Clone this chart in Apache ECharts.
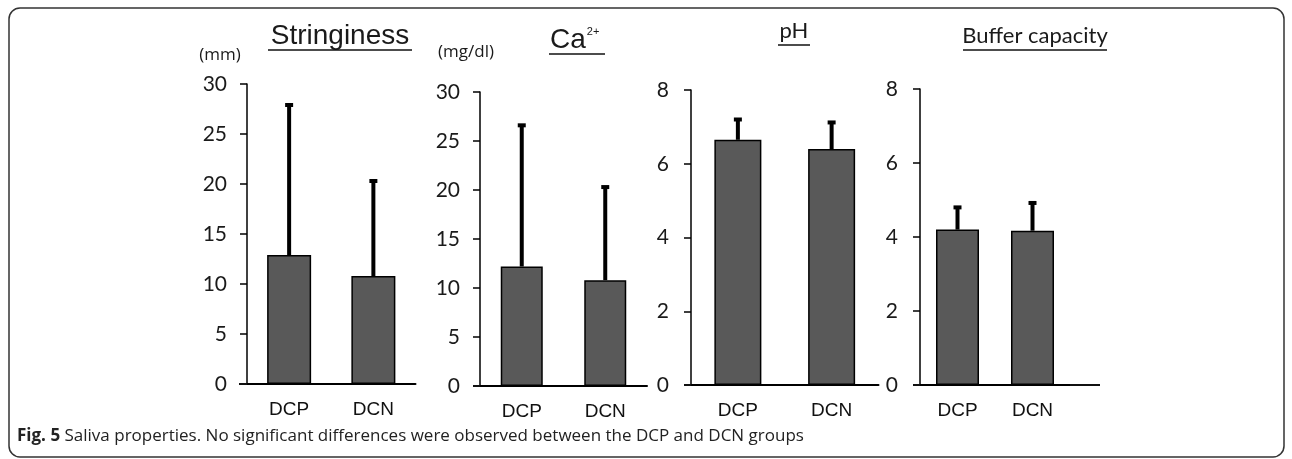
<!DOCTYPE html>
<html>
<head>
<meta charset="utf-8">
<script src="https://cdn.jsdelivr.net/npm/echarts@6/dist/echarts.min.js"></script>
<style>
html,body{margin:0;padding:0;background:#fff;}
#main{width:1292px;height:459px;}
</style>
</head>
<body>
<div id="main"></div>
<script>
// groups on each x axis
var groups = ['DCP', 'DCN'];
// means and SD
var stringMean = [12.9, 10.8];
var stringSd = [15.0, 9.5];
var caMean = [12.2, 10.8];
var caSd = [14.4, 9.5];
var phMean = [6.65, 6.4];
var phSd = [0.55, 0.72];
var bufMean = [4.2, 4.17];
var bufSd = [0.6, 0.75];
// y axis ranges
var yMax = [30, 30, 8, 8];
var yStep = [5, 5, 2, 2];

// left, right, top(max), bottom(0), bar width, label margin
var boxes = [
    [247, 415.5, 84, 384, 44, 20],
    [480, 647, 92, 386, 42, 20],
    [691, 878.5, 90, 385, 47, 22],
    [920, 1070, 89, 385, 43, 22]
];
var means = [stringMean, caMean, phMean, bufMean];
var sds = [stringSd, caSd, phSd, bufSd];

var tickFont = 'Lato';
var catFont = '"Liberation Sans"';

function errRender(params, api) {
    var x = api.value(0), m = api.value(1), s = api.value(2);
    var p0 = api.coord([x, m]);
    var p1 = api.coord([x, m + s]);
    return {
        type: 'group',
        children: [
            {type: 'line', shape: {x1: p0[0], y1: p0[1], x2: p1[0], y2: p1[1]}, style: {stroke: '#000', lineWidth: 4}},
            {type: 'rect', shape: {x: p1[0] - 4, y: p1[1] - 2, width: 8, height: 4}, style: {fill: '#000'}}
        ]
    };
}

var grids = [], xAxes = [], yAxes = [], series = [];
boxes.forEach(function (b, i) {
    grids.push({left: b[0], width: b[1] - b[0], top: b[2], height: b[3] - b[2]});
    xAxes.push({
        type: 'category', gridIndex: i, data: groups,
        axisLine: {lineStyle: {color: '#000', width: 2}},
        axisTick: {show: false},
        axisLabel: {color: '#111', fontFamily: catFont, fontSize: 19, margin: 16}
    });
    yAxes.push({
        type: 'value', gridIndex: i, min: 0, max: yMax[i], interval: yStep[i],
        axisLine: {show: true, lineStyle: {color: '#000', width: 1.5}},
        axisTick: {show: true, length: 7, lineStyle: {color: '#000', width: 1.5}},
        splitLine: {show: false},
        axisLabel: {color: '#1a1a1a', fontFamily: tickFont, fontSize: 21, margin: b[5]}
    });
    series.push({
        type: 'bar', xAxisIndex: i, yAxisIndex: i, barWidth: b[4],
        data: means[i],
        itemStyle: {color: '#595959', borderColor: '#000', borderWidth: 1.5},
        animation: false
    });
    series.push({
        type: 'custom', xAxisIndex: i, yAxisIndex: i,
        renderItem: errRender,
        encode: {x: 0, y: 1},
        data: means[i].map(function (m, j) { return [j, m, sds[i][j]]; }),
        z: 1,
        animation: false
    });
});

function uline(x1, x2, y, w) {
    return {type: 'line', z: 10, shape: {x1: x1, y1: y, x2: x2, y2: y}, style: {stroke: '#111', lineWidth: w || 1.5}};
}
function label(txt, x, y, font, align) {
    return {type: 'text', x: x, y: y, style: {text: txt, font: font, fill: '#1a1a1a', textAlign: align || 'center', textVerticalAlign: 'middle'}};
}

var graphics = [
    {type: 'rect', shape: {x: 9, y: 8, width: 1275, height: 449, r: 11}, style: {fill: 'none', stroke: '#333', lineWidth: 1.5}},
    label('Stringiness', 340, 36, '28px "Liberation Sans"'),
    uline(268, 412, 50),
    {type: 'text', x: 550, y: 40, style: {
        text: '{a|Ca}{b|2+}', fill: '#1a1a1a', textAlign: 'left', textVerticalAlign: 'middle',
        rich: {a: {font: '28px "Liberation Sans"', fill: '#1a1a1a'}, b: {font: '11px "Liberation Sans"', fill: '#1a1a1a', verticalAlign: 'top', padding: [0, 0, 14, 1]}}
    }},
    uline(549, 605, 54),
    label('pH', 794, 31, '22px Lato'),
    uline(778, 810, 45),
    label('Buffer capacity', 1035, 36, '22px Lato'),
    uline(963, 1107, 50),
    label('(mm)', 220, 55, '17px "Open Sans"'),
    label('(mg/dl)', 466, 52, '17px "Open Sans"'),
    // x axis lines run a little past the y axis
    uline(239, 247, 384, 2),
    uline(473, 480, 386, 2),
    uline(684, 691, 385, 2),
    uline(913, 920, 385, 2),
    uline(1070, 1100, 385, 2),
    {type: 'text', x: 17, y: 436, style: {
        text: '{b|Fig. 5} Saliva properties. No significant differences were observed between the DCP and DCN groups',
        font: '17px "Open Sans"', fill: '#222', textAlign: 'left', textVerticalAlign: 'middle',
        rich: {b: {font: 'bold 17px "Open Sans"', fill: '#222'}}
    }}
];

var myChart = echarts.init(document.getElementById('main'));
myChart.setOption({
    backgroundColor: '#fff',
    animation: false,
    grid: grids,
    xAxis: xAxes,
    yAxis: yAxes,
    series: series,
    graphic: graphics
});
</script>
</body>
</html>
